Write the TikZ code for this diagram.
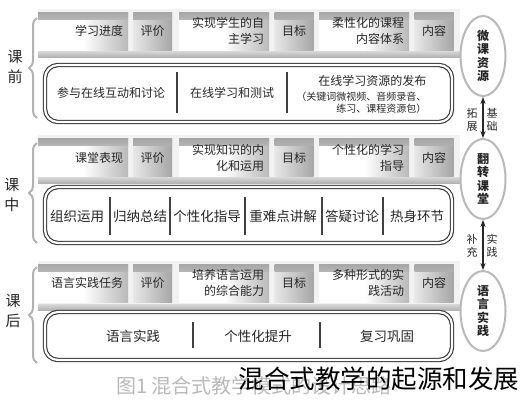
\documentclass[tikz,border=0pt]{standalone}
\usepackage{fontspec}
\setmainfont{Noto Sans CJK SC}
\usetikzlibrary{arrows.meta, shapes.geometric, decorations.pathreplacing}

\begin{document}
\begin{tikzpicture}[x=1pt, y=-1pt,
    every node/.style={text=black!85},
    topband/.style={path picture={\shade[top color=gray!70, bottom color=#1] (path picture bounding box.north west) rectangle ([yshift=-7pt]path picture bounding box.north east);}},
    tag/.style={minimum width=39pt, minimum height=38pt, inner sep=0pt, font=\fontsize{12}{14}\selectfont,
      left color=gray!18, right color=gray!70, topband=gray!25},
    cell/.style={minimum height=38pt, text width=80pt, inner xsep=5pt, inner ysep=0pt, align=right,
      font=\fontsize{12}{16}\selectfont, left color=white, right color=gray!55, middle color=white, topband=white},
    band/.style={top color=gray!30, bottom color=gray!60},
    lane/.style={draw=black!80, line width=1.1pt, double=white, double distance=2.2pt, rounded corners=13pt, minimum width=407pt},
    part/.style={font=\fontsize{13.5}{16}\selectfont},
    split/.style={black!75, line width=1.4pt},
    stage/.style={ellipse, draw=gray!55, line width=2pt, fill=white, minimum width=45pt, minimum height=80pt,
      inner sep=0pt, align=center, font=\bfseries\fontsize{12}{13.5}\selectfont},
    span/.style={decorate, decoration={brace, amplitude=8pt}, gray!60, line width=2pt},
    when/.style={align=center, font=\fontsize{15}{20}\selectfont},
    link/.style={{Stealth[length=7pt]}-{Stealth[length=7pt]}, line width=1.6pt, black!85},
    note/.style={align=center, font=\fontsize{11}{13}\selectfont}
  ]
  \useasboundingbox (0,0) rectangle (521,400);

  % top strips of the three stages
  \fill[gray!10] (38,9) rectangle (460,51);
  \shade[band] (38,51) rectangle (462,57);
  \fill[gray!10] (38,135) rectangle (460,177);
  \shade[band] (38,177) rectangle (462,183);
  \fill[gray!10] (38,261) rectangle (460,304);
  \shade[band] (38,304) rectangle (462,310);

  % tags repeated in every stage
  \foreach \row/\y in {pre/31, mid/157.5, post/283} {
    \node[tag] (\row pj) at (152.5,\y) {评价};
    \node[tag] (\row mb) at (294,\y) {目标};
    \node[tag] (\row nr) at (434,\y) {内容};
  }

  % 课前
  \node[cell] (prejd) at (83,31) {学习进度};
  \node[cell] (prezz) at (224,31) {实现学生的自\\主学习};
  \node[cell] (prerx) at (364,31) {柔性化的课程\\内容体系};
  \node[lane, minimum height=57pt] (prelane) at (248.5,93.5) {};
  \draw[split] (177,72) -- (177,113);
  \draw[split] (287,72) -- (287,113);
  \node[part, font=\fontsize{12}{14}\selectfont] (prehd) at (111,93) {参与在线互动和讨论};
  \node[part, font=\fontsize{12}{14}\selectfont] (precs) at (232,93) {在线学习和测试};
  \node[align=right, anchor=east, font=\fontsize{10}{12}\selectfont] (prefb) at (430,94)
    {{\fontsize{12}{14}\selectfont 在线学习资源的发布}\\[3pt]（关键词微视频、音频录音、\\练习、课程资源包）};

  % 课中
  \node[cell] (midbx) at (83,157.5) {课堂表现};
  \node[cell] (midnh) at (224,157.5) {实现知识的内\\化和运用};
  \node[cell] (midzd) at (364,157.5) {个性化的学习\\指导};
  \node[lane, minimum height=56pt] (midlane) at (248.5,215) {};
  \foreach \x in {110,170,245,322,383}
    \draw[split] (\x,197) -- (\x,235);
  \node[part] (midyy) at (77,216) {组织运用};
  \node[part] (midzj) at (140,216) {归纳总结};
  \node[part] (midgx) at (207,216) {个性化指导};
  \node[part] (midjj) at (283,216) {重难点讲解};
  \node[part] (midty) at (352,216) {答疑讨论};
  \node[part] (midrs) at (417,216) {热身环节};

  % 课后
  \node[cell] (postrw) at (83,283) {语言实践任务};
  \node[cell] (postnl) at (224,283) {培养语言运用\\的综合能力};
  \node[cell] (posthd) at (364,283) {多种形式的实\\践活动};
  \node[lane, minimum height=48pt] (postlane) at (248.5,336) {};
  \draw[split] (193,322) -- (193,348);
  \draw[split] (320,322) -- (320,348);
  \node[part] (postsj) at (133,336) {语言实践};
  \node[part] (posttg) at (258,336) {个性化提升};
  \node[part] (postgg) at (387,336) {复习巩固};

  % stages on the right
  \node[stage] (wk) at (483,56) {微\\课\\资\\源};
  \node[stage] (fz) at (483,179) {翻\\转\\课\\堂};
  \node[stage] (yy) at (483,311) {语\\言\\实\\践};
  \draw[link] (wk) -- (fz);
  \draw[link] (fz) -- (yy);
  \node[note] (jc) at (492,120) {基\\础};
  \node[note] (tz) at (472,120) {拓\\展};
  \node[note] (sj) at (492,246) {实\\践};
  \node[note] (bc) at (472,246) {补\\充};

  % braces on the left
  \draw[span] (37,118) -- (37,18);
  \node[when] (pre) at (15,67) {课\\前};
  \draw[span] (37,243) -- (37,143);
  \node[when] (mid) at (12,195) {课\\中};
  \draw[span] (37,363) -- (37,267);
  \node[when] (post) at (13,311) {课\\后};

  % caption and overlay text
  \node[text=gray!55, font=\fontsize{20}{20}\selectfont] (cap) at (254,386) {图1\ 混合式教学模式的设计思路};
  \node[text=black, font=\fontsize{25.5}{26}\selectfont] (mark) at (379,379) {混合式教学的起源和发展};
\end{tikzpicture}
\end{document}
